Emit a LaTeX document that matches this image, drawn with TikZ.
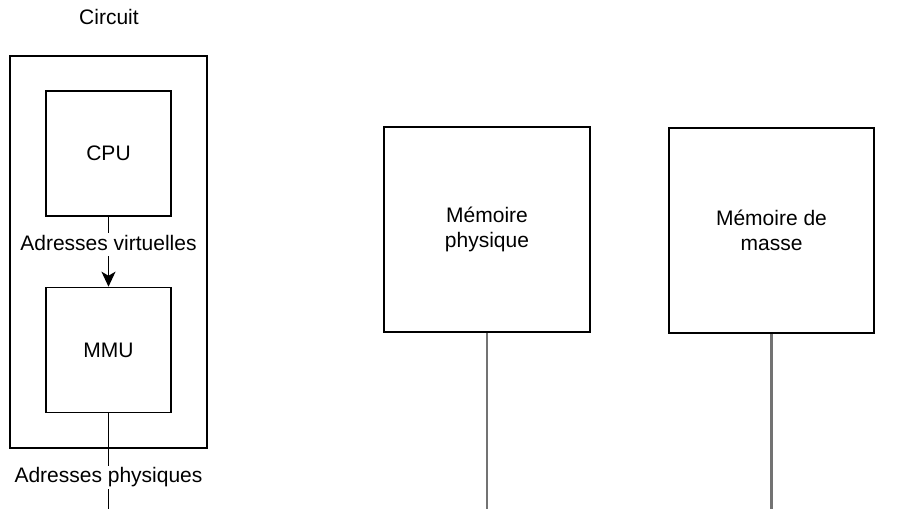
\documentclass[tikz,border=0pt]{standalone}
\usepackage{fontspec}
\setmainfont{Liberation Sans}
\usetikzlibrary{arrows.meta}

\def\txt{\fontsize{21}{25}\selectfont}

\begin{document}
\begin{tikzpicture}[x=1pt, y=-1pt, line width=1.6pt,
	bloc/.style={draw, rectangle, align=center, inner sep=0pt, font=\txt},
	bus/.style={draw=black!55, line width=2.6pt},
	etiquette/.style={fill=white, font=\txt, inner xsep=3pt, inner ysep=0pt, text height=17pt, text depth=6pt}]
	\useasboundingbox (0, 0) rectangle (899, 509);
	
	% le circuit et ses deux blocs
	\node[bloc, minimum width=197, minimum height=392] (circuit) at (108.5, 252) {};
	\node[font=\txt] (titre) at (109, 17) {Circuit};
	\node[bloc, minimum size=125] (cpu) at (108.5, 153.5) {CPU};
	\node[bloc, minimum size=125] (mmu) at (108.5, 350) {MMU};
	
	% les memoires
	\node[bloc, minimum width=206, minimum height=205] (memphys) at (487, 229.5) {Mémoire\\physique};
	\node[bloc, minimum width=205, minimum height=205] (memmasse) at (771.5, 230.5) {Mémoire de\\masse};
	
	\coordinate (bas1) at (108.5, 509);
	\coordinate (bas2) at (487, 509);
	\coordinate (bas3) at (771.5, 509);
	
	\draw[-{Stealth[length=15pt, width=14pt, inset=4pt]}] (cpu) -- (mmu)
		node[etiquette, pos=0.4] (virt) {Adresses virtuelles};
	\draw (mmu) -- (bas1)
		node[etiquette, pos=0.67] (phys) {Adresses physiques};
	
	\foreach \m/\b in {memphys/bas2, memmasse/bas3}{
		\draw[bus] (\m) -- (\b);
	}
\end{tikzpicture}
\end{document}
